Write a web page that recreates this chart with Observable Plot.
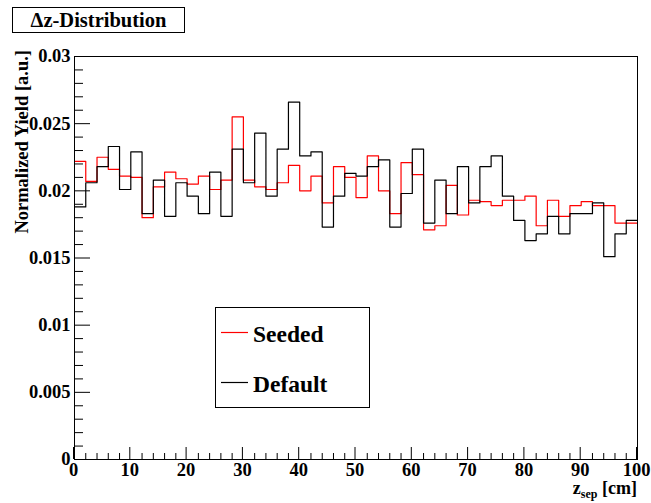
<!DOCTYPE html>
<html><head><meta charset="utf-8">
<script src="https://cdn.jsdelivr.net/npm/d3@7"></script>
<script src="https://cdn.jsdelivr.net/npm/@observablehq/plot@0.6"></script>
<style>body{margin:0;background:#fff}</style>
</head><body><div id="chart"></div>
<script>
const binLow = [0,2,4,6,8,10,12,14,16,18,20,22,24,26,28,30,32,34,36,38,40,42,44,46,48,
  50,52,54,56,58,60,62,64,66,68,70,72,74,76,78,80,82,84,86,88,90,92,94,96,98];
const binWidth = 2;
const seeded = [0.0222,0.0207,0.0225,0.0216,0.0211,0.0210,0.0180,0.0203,0.0214,0.0209,
  0.0205,0.0211,0.0201,0.0208,0.0255,0.0208,0.0203,0.0201,0.0206,0.0219,
  0.0200,0.0211,0.0191,0.0218,0.0210,0.0195,0.0226,0.0200,0.0183,0.0221,
  0.0212,0.0171,0.0174,0.0204,0.0182,0.0193,0.0192,0.0189,0.0193,0.0193,
  0.0196,0.0174,0.0193,0.0181,0.0189,0.0192,0.0189,0.0189,0.0176,0.0176];
const defaultY = [0.0188,0.0206,0.0218,0.0233,0.0201,0.0229,0.0183,0.0208,0.0181,0.0206,
  0.0196,0.0183,0.0214,0.0181,0.0231,0.0206,0.0243,0.0196,0.0231,0.0266,
  0.0226,0.0229,0.0173,0.0196,0.0213,0.0211,0.0218,0.0223,0.0173,0.0198,
  0.0231,0.0176,0.0208,0.0183,0.0218,0.0191,0.0218,0.0226,0.0196,0.0178,
  0.0163,0.0168,0.0181,0.0168,0.0183,0.0183,0.0191,0.0151,0.0168,0.0178];
const xMajor = [0,10,20,30,40,50,60,70,80,90,100];
const xMinor = [2,4,6,8,12,14,16,18,22,24,26,28,32,34,36,38,42,44,46,48,52,54,56,58,62,64,66,68,72,74,76,78,82,84,86,88,92,94,96,98];
const yMajor = [0,0.005,0.01,0.015,0.02,0.025,0.03];
const yMajorLabels = ["0","0.005","0.01","0.015","0.02","0.025","0.03"];
const yMinor = [0.001,0.002,0.003,0.004,0.006,0.007,0.008,0.009,0.011,0.012,0.013,0.014,0.016,0.017,0.018,0.019,0.021,0.022,0.023,0.024,0.026,0.027,0.028,0.029];
const series = [
  {name: "Seeded", values: seeded, color: "#ff0000"},
  {name: "Default", values: defaultY, color: "#000000"}
];

function steps(vals) {
  const pts = binLow.map((x, i) => ({x, y: vals[i]}));
  pts.push({x: binLow[binLow.length - 1] + binWidth, y: vals[vals.length - 1]});
  return pts;
}

const chart = Plot.plot({
  width: 651,
  height: 503,
  marginLeft: 74,
  marginRight: 14,
  marginTop: 56,
  marginBottom: 44,
  style: {fontFamily: "'Liberation Serif', serif", fontWeight: "bold", fontSize: "18.5px", color: "#000", background: "#fff"},
  x: {domain: [0, 100]},
  y: {domain: [0, 0.03]},
  marks: [
    ...series.map(s => Plot.line(steps(s.values), {x: "x", y: "y", curve: "step-after", stroke: s.color, strokeWidth: 1.2})),
    Plot.axisX({ticks: xMinor, tickSize: -6, tickPadding: 9, tickFormat: () => "", label: null}),
    Plot.axisX({ticks: xMajor, tickSize: -12, tickPadding: 15, tickFormat: d => String(d), label: null, fontSize: 18.5, dx: -1}),
    Plot.axisY({ticks: yMinor, tickSize: -9, tickPadding: 12, tickFormat: () => "", label: null}),
    Plot.axisY({ticks: yMajor, tickSize: -16, tickPadding: 20, tickFormat: (d, i) => yMajorLabels[i], label: null, fontSize: 18.5}),
    Plot.frame({stroke: "#000", strokeWidth: 1})
  ]
});
document.getElementById("chart").appendChild(chart);

const svg = d3.select(chart);
const font = "'Liberation Serif', serif";
// title box
svg.append("rect").attr("x", 12.5).attr("y", 7.5).attr("width", 172).attr("height", 25)
  .attr("fill", "#fff").attr("stroke", "#000");
svg.append("text").attr("x", 98.5).attr("y", 27).attr("text-anchor", "middle")
  .attr("font-family", font).attr("font-weight", "bold").attr("font-size", 20.5).attr("fill", "#000")
  .text("\u0394z-Distribution");
// y axis label
svg.append("text").attr("transform", "translate(28,50) rotate(-90)").attr("text-anchor", "end")
  .attr("font-family", font).attr("font-weight", "bold").attr("font-size", 18.5).attr("fill", "#000")
  .text("Normalized Yield [a.u.]");
// x axis label
const xl = svg.append("text").attr("x", 637).attr("y", 494).attr("text-anchor", "end")
  .attr("font-family", font).attr("font-weight", "bold").attr("font-size", 18).attr("fill", "#000");
xl.append("tspan").text("z");
xl.append("tspan").attr("font-size", 12).attr("dy", 4).text("sep");
xl.append("tspan").attr("dy", -4).text(" [cm]");
// legend
svg.append("rect").attr("x", 215.5).attr("y", 307.5).attr("width", 154).attr("height", 100)
  .attr("fill", "#fff").attr("stroke", "#000");
series.forEach((s, i) => {
  const yy = 332.5 + i * 50;
  svg.append("line").attr("x1", 221).attr("x2", 248).attr("y1", yy).attr("y2", yy)
    .attr("stroke", s.color).attr("stroke-width", 1.2);
  svg.append("text").attr("x", 253).attr("y", yy + 9).attr("text-anchor", "start")
    .attr("font-family", font).attr("font-weight", "bold").attr("font-size", 23.5)
    .attr("fill", "#000").text(s.name);
});
</script>
</body></html>
